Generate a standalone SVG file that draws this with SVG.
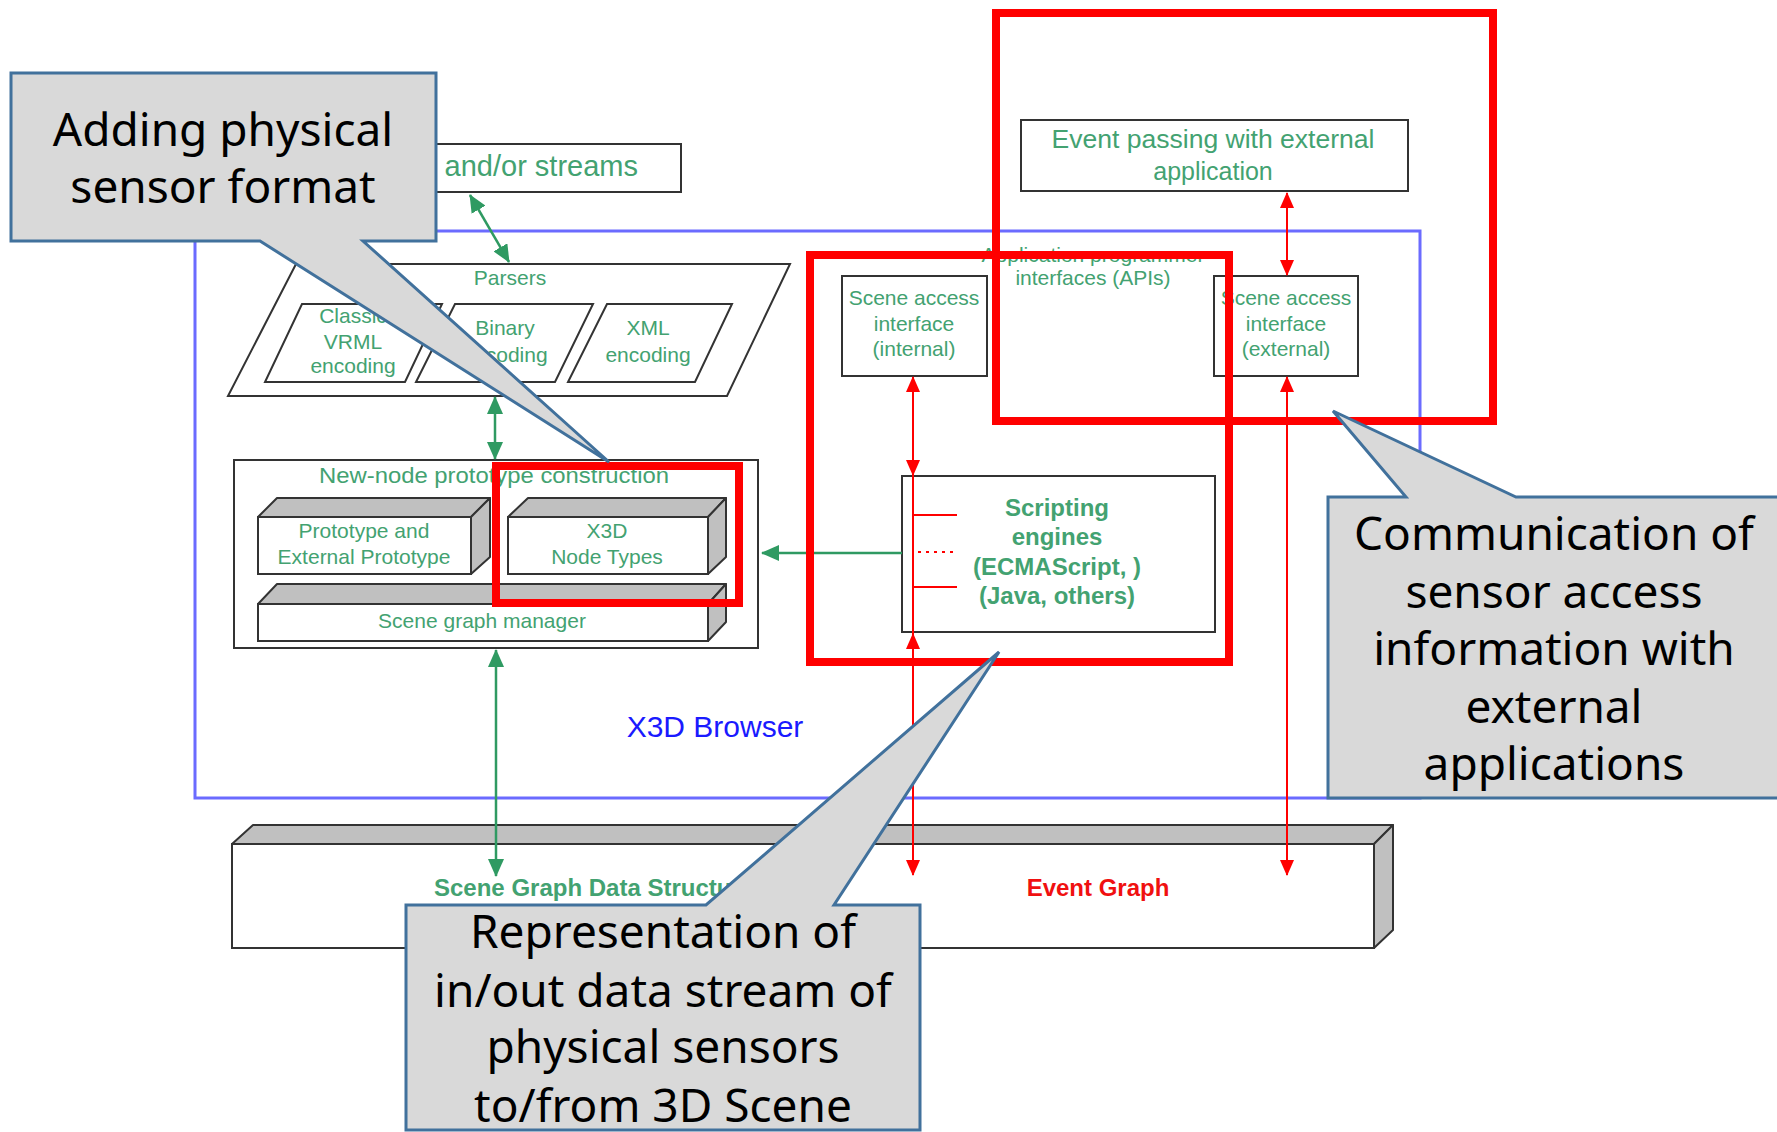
<svg xmlns="http://www.w3.org/2000/svg" width="1777" height="1132" viewBox="0 0 1777 1132">
<style>
.t{font-family:"Liberation Sans",Arial,sans-serif;fill:#43a271;font-size:21px;text-anchor:middle}
.b{font-weight:bold;font-size:24px}
.box{fill:#fff;stroke:#333;stroke-width:2}
.gray{fill:#c0c0c0;stroke:#333;stroke-width:2;stroke-linejoin:round}
.g{stroke:#2f9a62;stroke-width:2.5;fill:none}
.r{stroke:#ff0000;stroke-width:2;fill:none}
.hl{fill:none;stroke:#ff0000;stroke-width:8}
.co{fill:#d9d9d9;stroke:#41719c;stroke-width:3;stroke-linejoin:miter}
.ct{font-family:"Noto Sans","Liberation Sans",sans-serif;font-size:46px;fill:#000;text-anchor:middle}
</style>
<defs>
<marker id="ag" viewBox="0 0 18 16" refX="17" refY="8" markerWidth="18" markerHeight="16" markerUnits="userSpaceOnUse" orient="auto-start-reverse"><path d="M0,0 L18,8 L0,16 z" fill="#2f9a62"/></marker>
<marker id="ar" viewBox="0 0 16 14" refX="15" refY="7" markerWidth="16" markerHeight="14" markerUnits="userSpaceOnUse" orient="auto-start-reverse"><path d="M0,0 L16,7 L0,14 z" fill="#ff0000"/></marker>
</defs>
<rect width="1777" height="1132" fill="#fff"/>

<g id="x3d-browser">
<rect x="195" y="231" width="1225" height="567" fill="none" stroke="#6b6bff" stroke-width="3"/>
<text x="715" y="737" style="font-family:'Liberation Sans',Arial,sans-serif;font-size:30px;fill:#1a1aff;text-anchor:middle">X3D Browser</text>
</g>

<g id="streams">
<rect class="box" x="300" y="144" width="381" height="48"/>
<text class="t" x="638" y="176" style="font-size:29px;text-anchor:end">and/or streams</text>
</g>

<g id="parsers">
<polygon class="box" points="296,264 790,264 727,396 228,396"/>
<text class="t" x="510" y="285">Parsers</text>
<polygon class="box" points="302,304 442,304 405,382 265,382"/>
<text class="t" x="353" y="323">Classic</text>
<text class="t" x="353" y="349">VRML</text>
<text class="t" x="353" y="373">encoding</text>
<polygon class="box" points="455,304 593,304 555,382 416,382"/>
<text class="t" x="505" y="335">Binary</text>
<text class="t" x="505" y="362">encoding</text>
<polygon class="box" points="607,304 732,304 695,382 568,382"/>
<text class="t" x="648" y="335">XML</text>
<text class="t" x="648" y="362">encoding</text>
</g>

<g id="new-node">
<rect class="box" x="234" y="460" width="524" height="188"/>
<text class="t" x="494" y="483" textLength="350" lengthAdjust="spacingAndGlyphs" style="font-size:22px">New-node prototype construction</text>
</g>

<g id="prototype">
<polygon class="gray" points="258,517 277,498 490,498 471,517"/>
<polygon class="gray" points="471,517 490,498 490,557 471,574"/>
<rect class="box" x="258" y="517" width="213" height="57"/>
<text class="t" x="364" y="538">Prototype and</text>
<text class="t" x="364" y="564">External Prototype</text>
</g>

<g id="x3d-node-types">
<polygon class="gray" points="508,517 528,498 726,498 708,517"/>
<polygon class="gray" points="708,517 726,498 726,557 708,574"/>
<rect class="box" x="508" y="517" width="200" height="57"/>
<text class="t" x="607" y="538">X3D</text>
<text class="t" x="607" y="564">Node Types</text>
</g>

<g id="scene-graph-manager">
<polygon class="gray" points="258,604 277,584 726,584 708,604"/>
<polygon class="gray" points="708,604 726,584 726,622 708,641"/>
<rect class="box" x="258" y="604" width="450" height="37"/>
<text class="t" x="482" y="628">Scene graph manager</text>
</g>

<g id="event-passing">
<rect class="box" x="1021" y="120" width="387" height="71"/>
<text class="t" x="1213" y="148" style="font-size:25px" textLength="323" lengthAdjust="spacingAndGlyphs">Event passing with external</text>
<text class="t" x="1213" y="180" style="font-size:25px">application</text>
</g>

<g id="api">
<text class="t" x="1093" y="262">Application programmer</text>
<text class="t" x="1093" y="285">interfaces (APIs)</text>
</g>

<g id="sai-internal">
<rect class="box" x="842" y="276" width="145" height="100"/>
<text class="t" x="914" y="305">Scene access</text>
<text class="t" x="914" y="331">interface</text>
<text class="t" x="914" y="356">(internal)</text>
</g>

<g id="sai-external">
<rect class="box" x="1214" y="276" width="144" height="100"/>
<text class="t" x="1286" y="305">Scene access</text>
<text class="t" x="1286" y="331">interface</text>
<text class="t" x="1286" y="356">(external)</text>
</g>

<g id="scripting">
<rect class="box" x="902" y="476" width="313" height="156"/>
<text class="t b" x="1057" y="516">Scripting</text>
<text class="t b" x="1057" y="545">engines</text>
<text class="t b" x="1057" y="575">(ECMAScript, )</text>
<text class="t b" x="1057" y="604">(Java, others)</text>
</g>

<g id="data-structure">
<polygon class="gray" points="232,844 253,825 1393,825 1374,844"/>
<polygon class="gray" points="1374,844 1393,825 1393,930 1374,948"/>
<rect class="box" x="232" y="844" width="1142" height="104"/>
<text class="t b" x="434" y="896" style="text-anchor:start">Scene Graph Data Structure</text>
<text class="t b" x="1098" y="896" style="fill:#f01010">Event Graph</text>
</g>

<g id="connectors">
<line class="g" x1="470" y1="195" x2="509" y2="262" marker-start="url(#ag)" marker-end="url(#ag)"/>
<line class="g" x1="495" y1="397" x2="495" y2="459" marker-start="url(#ag)" marker-end="url(#ag)"/>
<line class="g" x1="902" y1="553" x2="762" y2="553" marker-end="url(#ag)"/>
<line class="g" x1="496" y1="650" x2="496" y2="876" marker-start="url(#ag)" marker-end="url(#ag)"/>
<line class="r" x1="913" y1="377" x2="913" y2="475" marker-start="url(#ar)" marker-end="url(#ar)"/>
<line class="r" x1="913" y1="475" x2="913" y2="634"/>
<line class="r" x1="913" y1="634" x2="913" y2="875" marker-start="url(#ar)" marker-end="url(#ar)"/>
<line class="r" x1="913" y1="515" x2="957" y2="515" stroke-width="3"/>
<line class="r" x1="918" y1="552" x2="957" y2="552" stroke-width="3" stroke-dasharray="3,5"/>
<line class="r" x1="913" y1="587" x2="957" y2="587" stroke-width="3"/>
<line class="r" x1="1287" y1="193" x2="1287" y2="275" marker-start="url(#ar)" marker-end="url(#ar)"/>
<line class="r" x1="1287" y1="377" x2="1287" y2="875" marker-start="url(#ar)" marker-end="url(#ar)"/>
</g>

<g id="highlights">
<rect class="hl" x="996" y="13" width="497" height="408"/>
<rect class="hl" x="810" y="255" width="419" height="407"/>
<rect class="hl" x="496" y="466" width="243" height="137"/>
</g>

<g id="callout-format">
<path class="co" d="M11,73 H436 V241 H363 L609,462 L260,241 H11 Z"/>
<text class="ct" x="223" y="146">Adding physical</text>
<text class="ct" x="223" y="203">sensor format</text>
</g>

<g id="callout-communication">
<path class="co" d="M1328,497 H1406 L1333,411 L1516,497 H1790 V798 H1328 Z"/>
<text class="ct" x="1554" y="550">Communication of</text>
<text class="ct" x="1554" y="608">sensor access</text>
<text class="ct" x="1554" y="665">information with</text>
<text class="ct" x="1554" y="723">external</text>
<text class="ct" x="1554" y="780">applications</text>
</g>

<g id="callout-stream">
<path class="co" d="M406,905 H706 L999,652 L834,905 H920 V1130 H406 Z"/>
<text class="ct" x="663" y="948">Representation of</text>
<text class="ct" x="663" y="1007">in/out data stream of</text>
<text class="ct" x="663" y="1063">physical sensors</text>
<text class="ct" x="663" y="1122">to/from 3D Scene</text>
</g>
</svg>
